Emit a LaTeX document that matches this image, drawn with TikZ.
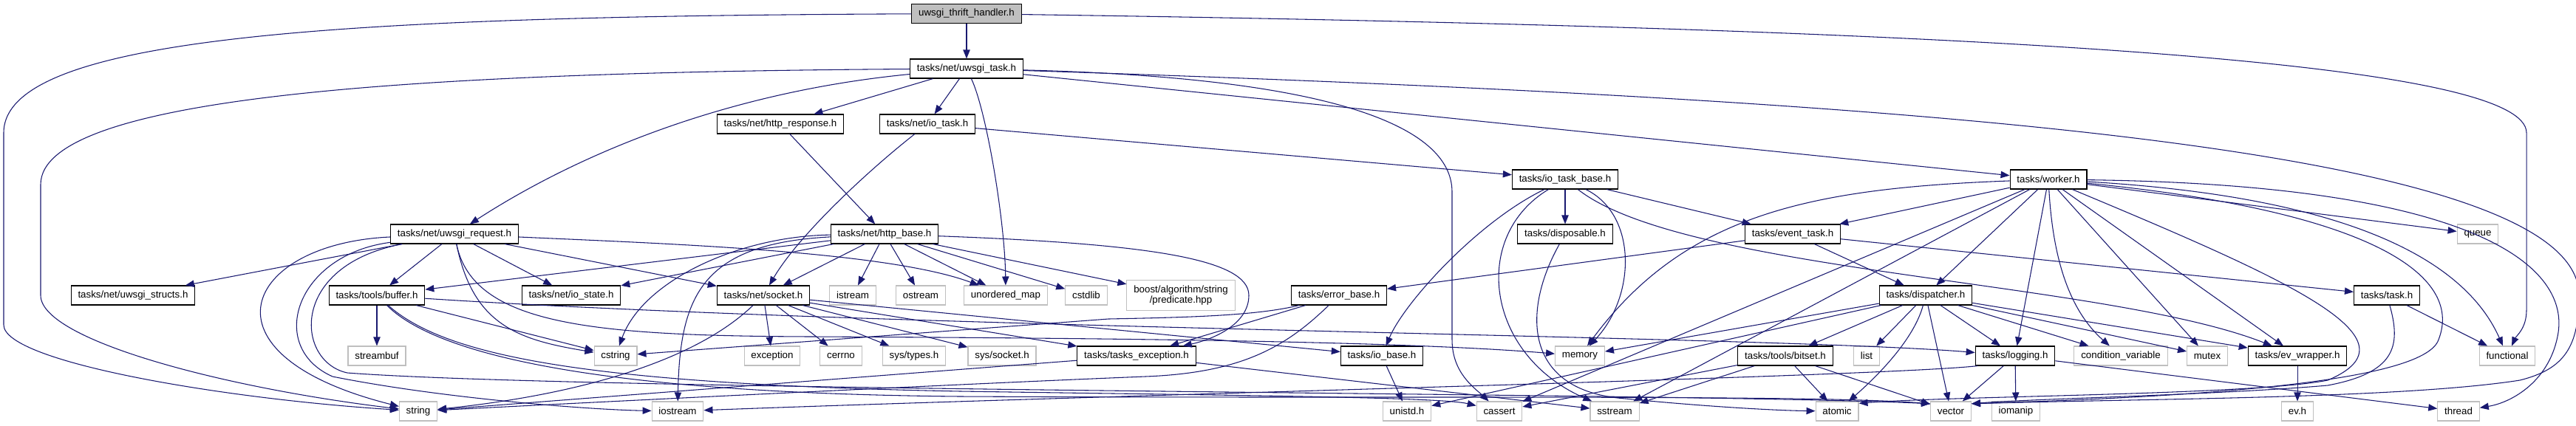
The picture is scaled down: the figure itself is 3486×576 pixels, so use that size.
\documentclass[tikz,border=0pt]{standalone}
\usepackage{fontspec}
\setmainfont{Liberation Sans}
\usepackage{tikz}
\usetikzlibrary{arrows.meta}
\definecolor{edgeblue}{HTML}{191970}
\definecolor{grey75}{HTML}{BFBFBF}
\tikzset{
  hdr/.style={draw=black,fill=white,line width=0.8pt,minimum height=19.5pt,inner xsep=7pt,inner ysep=1pt,font=\fontsize{10}{11}\selectfont},
  sys/.style={hdr,draw=grey75},
  root/.style={hdr,fill=grey75},
  arr/.style={draw=edgeblue,line width=0.8pt,-{Triangle[length=9pt,width=7pt]}},
}
\begin{document}
\begin{tikzpicture}[x=0.75pt,y=-0.75pt]
 \useasboundingbox (0,0) rectangle (3486,576);
 \node[root] (thrift) at (1308,18.5) {uwsgi\_thrift\_handler.h};
 \node[hdr] (utask) at (1308,93) {tasks/net/uwsgi\_task.h};
 \node[hdr] (httpresp) at (1056,168) {tasks/net/http\_response.h};
 \node[hdr] (iotask) at (1255,168) {tasks/net/io\_task.h};
 \node[hdr] (iotaskbase) at (2118,243) {tasks/io\_task\_base.h};
 \node[hdr] (worker) at (2772,243) {tasks/worker.h};
 \node[hdr] (ureq) at (615,317) {tasks/net/uwsgi\_request.h};
 \node[hdr] (httpbase) at (1197,317) {tasks/net/http\_base.h};
 \node[hdr] (disposable) at (2118,317) {tasks/disposable.h};
 \node[hdr] (eventtask) at (2426,317) {tasks/event\_task.h};
 \node[sys] (queue) at (3353,317) {queue};
 \node[hdr] (ustructs) at (180,400) {tasks/net/uwsgi\_structs.h};
 \node[hdr] (buffer) at (510,400) {tasks/tools/buffer.h};
 \node[hdr] (iostate) at (773,400) {tasks/net/io\_state.h};
 \node[hdr] (socket) at (1033,400) {tasks/net/socket.h};
 \node[sys] (istream) at (1154,400) {istream};
 \node[sys] (ostream) at (1246,400) {ostream};
 \node[sys] (umap) at (1361,400) {unordered\_map};
 \node[sys] (cstdlib) at (1470,400) {cstdlib};
 \node[sys,align=center,inner ysep=5pt] (boost) at (1598,400) {boost/algorithm/string\\/predicate.hpp};
 \node[hdr] (errorbase) at (1812,400) {tasks/error\_base.h};
 \node[hdr] (dispatcher) at (2606,400) {tasks/dispatcher.h};
 \node[hdr] (task) at (3230,400) {tasks/task.h};
 \node[sys] (streambuf) at (510,482) {streambuf};
 \node[sys] (cstring) at (833,482) {cstring};
 \node[sys] (exception) at (1045,482) {exception};
 \node[sys] (cerrno) at (1138,482) {cerrno};
 \node[sys] (systypes) at (1237,482) {sys/types.h};
 \node[sys] (syssocket) at (1356,482) {sys/socket.h};
 \node[hdr] (tasksexc) at (1538,482) {tasks/tasks\_exception.h};
 \node[hdr] (iobase) at (1870,482) {tasks/io\_base.h};
 \node[sys] (memory) at (2138,482) {memory};
 \node[hdr] (bitset) at (2416,482) {tasks/tools/bitset.h};
 \node[sys] (list) at (2526,482) {list};
 \node[hdr] (logging) at (2727,482) {tasks/logging.h};
 \node[sys] (condvar) at (2870,482) {condition\_variable};
 \node[sys] (mutex) at (2987,482) {mutex};
 \node[hdr] (evwrap) at (3109,482) {tasks/ev\_wrapper.h};
 \node[sys] (functional) at (3393,482) {functional};
 \node[sys] (string) at (566,557) {string};
 \node[sys] (iostream) at (917,557) {iostream};
 \node[sys] (unistd) at (1904,557) {unistd.h};
 \node[sys] (cassert) at (2029,557) {cassert};
 \node[sys] (sstream) at (2185,557) {sstream};
 \node[sys] (atomic) at (2486,557) {atomic};
 \node[sys] (vector) at (2640,557) {vector};
 \node[sys] (iomanip) at (2728,557) {iomanip};
 \node[sys] (evh) at (3109,557) {ev.h};
 \node[sys] (thread) at (3327,557) {thread};
 \draw[arr] (thrift) -- (utask);
 \draw[arr] (thrift) .. controls (450,22) and (5,50) .. (5,180) -- (5,440) .. controls (5,490) and (300,540) .. (string);
 \draw[arr] (thrift) .. controls (2800,40) and (3419,90) .. (3419,180) -- (3419,420) .. controls (3419,445) and (3405,455) .. (functional);
 \draw[arr] (utask) .. controls (560,98) and (55,130) .. (55,250) -- (55,400) .. controls (55,460) and (300,525) .. (string);
 \draw[arr] (utask) .. controls (980,125) and (780,210) .. (ureq); \draw[arr] (utask) -- (httpresp); \draw[arr] (utask) -- (iotask);
 \draw[arr] (utask) .. controls (1335,150) and (1360,300) .. (umap); \draw[arr] (utask) -- (worker);
 \draw[arr] (utask) .. controls (1800,105) and (1965,170) .. (1965,260) -- (1965,460) .. controls (1965,505) and (1995,525) .. (cassert);
 \draw[arr] (utask) .. controls (2600,135) and (3490,200) .. (3490,400) .. controls (3490,470) and (3470,500) .. (3410,515) .. controls (3250,540) and (2900,540) .. (vector.20);
 \draw[arr] (httpresp) -- (httpbase);
 \draw[arr] (iotask) .. controls (1170,235) and (1080,320) .. (socket); \draw[arr] (iotask) -- (iotaskbase);
 \draw[arr] (iotaskbase) -- (disposable); \draw[arr] (iotaskbase) -- (eventtask);
 \draw[arr] (iotaskbase) .. controls (2215,290) and (2215,400) .. (memory);
 \draw[arr] (iotaskbase) .. controls (2000,300) and (1900,410) .. (iobase);
 \draw[arr] (iotaskbase) .. controls (1990,320) and (2010,480) .. (sstream);
 \draw[arr] (iotaskbase) .. controls (2280,370) and (2850,380) .. (evwrap);
 \draw[arr] (disposable) .. controls (2060,420) and (2060,530) .. (2200,540) .. controls (2300,550) and (2400,556) .. (atomic);
 \draw[arr] (eventtask) -- (errorbase); \draw[arr] (eventtask) -- (dispatcher); \draw[arr] (eventtask) -- (task);
 \draw[arr] (worker) .. controls (2450,255) and (2280,290) .. (memory);
 \draw[arr] (worker) -- (eventtask); \draw[arr] (worker) -- (cassert); \draw[arr] (worker) -- (sstream); \draw[arr] (worker) -- (dispatcher);
 \draw[arr] (worker) -- (logging); \draw[arr] (worker) .. controls (2778,350) and (2800,420) .. (condvar);
 \draw[arr] (worker) -- (mutex); \draw[arr] (worker) -- (evwrap); \draw[arr] (worker) -- (queue);
 \draw[arr] (worker) .. controls (3150,265) and (3330,340) .. (functional);
 \draw[arr] (worker) .. controls (3350,250) and (3475,360) .. (3462,450) .. controls (3452,515) and (3400,545) .. (thread);
 \draw[arr] (worker) .. controls (3200,285) and (3335,370) .. (3300,460) .. controls (3280,520) and (2950,538) .. (vector.20);
 \draw[arr] (worker) .. controls (3100,380) and (3280,460) .. (3150,515) .. controls (3050,535) and (2650,536) .. (atomic.20);
 \draw[arr] (task) -- (functional);
 \draw[arr] (task) .. controls (3250,470) and (3240,505) .. (3150,522) .. controls (3000,535) and (2750,540) .. (vector.20);
 \draw[arr] (dispatcher) -- (memory); \draw[arr] (dispatcher) -- (unistd); \draw[arr] (dispatcher) -- (bitset); \draw[arr] (dispatcher) -- (list);
 \draw[arr] (dispatcher) .. controls (2590,460) and (2540,510) .. (atomic); \draw[arr] (dispatcher) -- (vector);
 \draw[arr] (dispatcher) -- (logging); \draw[arr] (dispatcher) -- (condvar); \draw[arr] (dispatcher) -- (mutex); \draw[arr] (dispatcher) -- (evwrap);
 \draw[arr] (bitset) -- (cassert); \draw[arr] (bitset) -- (sstream); \draw[arr] (bitset) -- (atomic); \draw[arr] (bitset) -- (vector);
 \draw[arr] (logging) -- (vector); \draw[arr] (logging) -- (iomanip); \draw[arr] (logging) -- (thread);
 \draw[arr] (logging.195) .. controls (2550,510) and (1500,535) .. (iostream);
 \draw[arr] (evwrap) -- (evh);
 \draw[arr] (ureq) -- (ustructs); \draw[arr] (ureq) -- (buffer); \draw[arr] (ureq) -- (iostate); \draw[arr] (ureq) -- (socket);
 \draw[arr] (ureq) .. controls (900,330) and (1200,340) .. (umap);
 \draw[arr] (ureq) .. controls (640,440) and (700,460) .. (cstring);
 \draw[arr] (ureq) .. controls (330,330) and (260,480) .. (string);
 \draw[arr] (ureq) .. controls (400,345) and (360,470) .. (450,510) .. controls (600,540) and (800,555) .. (iostream);
 \draw[arr] (ureq) .. controls (640,440) and (800,455) .. (1100,456) .. controls (1500,458) and (1900,462) .. (memory);
 \draw[arr] (ureq) .. controls (390,360) and (400,490) .. (470,505) .. controls (800,530) and (2300,532) .. (vector.160);
 \draw[arr] (buffer) -- (streambuf); \draw[arr] (buffer) -- (cstring);
 \draw[arr] (buffer) .. controls (1200,445) and (2400,455) .. (logging);
 \draw[arr] (buffer) .. controls (600,480) and (780,520) .. (1300,530) .. controls (1700,536) and (1950,538) .. (cassert);
 \draw[arr] (buffer) .. controls (580,470) and (760,532) .. (1300,537) .. controls (1900,540) and (2450,534) .. (vector.160);
 \draw[arr] (httpbase) -- (buffer); \draw[arr] (httpbase) -- (iostate); \draw[arr] (httpbase) -- (socket);
 \draw[arr] (httpbase) .. controls (1000,320) and (870,380) .. (cstring);
 \draw[arr] (httpbase) .. controls (950,330) and (920,400) .. (iostream);
 \draw[arr] (httpbase) -- (istream); \draw[arr] (httpbase) -- (ostream); \draw[arr] (httpbase) -- (umap); \draw[arr] (httpbase) -- (cstdlib); \draw[arr] (httpbase) -- (boost);
 \draw[arr] (httpbase) .. controls (1550,330) and (1690,350) .. (1690,400) .. controls (1690,440) and (1640,460) .. (tasksexc);
 \draw[arr] (errorbase) .. controls (1700,428) and (1600,430) .. (1500,432) -- (cstring); \draw[arr] (errorbase) -- (tasksexc);
 \draw[arr] (errorbase) .. controls (1740,470) and (1680,505) .. (1550,510) .. controls (1300,520) and (800,545) .. (string);
 \draw[arr] (tasksexc) -- (string); \draw[arr] (tasksexc) -- (sstream);
 \draw[arr] (socket) .. controls (940,490) and (780,535) .. (string);
 \draw[arr] (socket) -- (exception); \draw[arr] (socket) -- (cerrno); \draw[arr] (socket) -- (systypes); \draw[arr] (socket) -- (syssocket);
 \draw[arr] (socket) -- (tasksexc); \draw[arr] (socket) -- (iobase);
 \draw[arr] (iobase) -- (unistd);
\end{tikzpicture}
\end{document}
